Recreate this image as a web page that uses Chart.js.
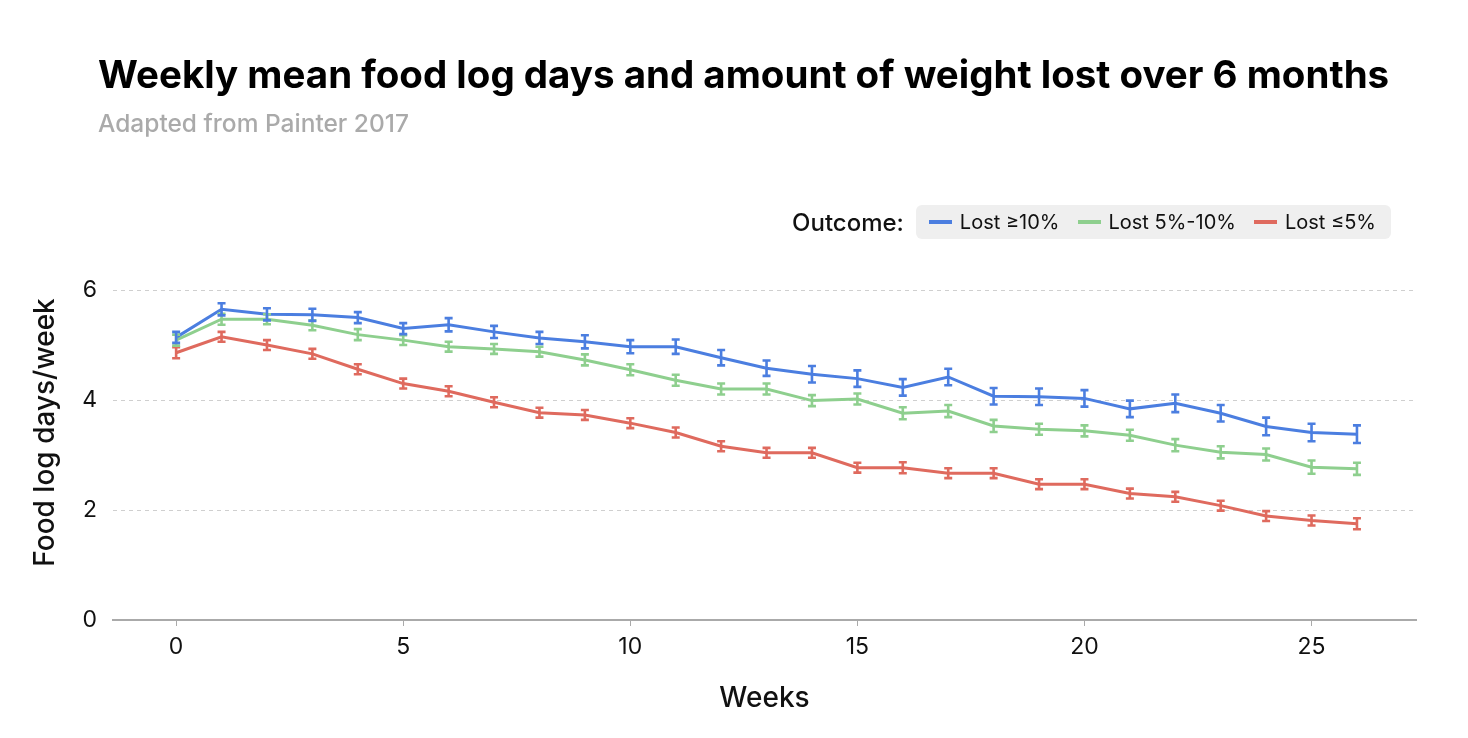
<!DOCTYPE html>
<html>
<head>
<meta charset="utf-8">
<script src="https://cdn.jsdelivr.net/npm/chart.js@4.4.1/dist/chart.umd.min.js"></script>
<style>
  html, body { margin: 0; padding: 0; background: #fff; }
  #wrap { position: relative; width: 1468px; height: 738px; font-family: Inter, "Noto Sans", sans-serif; }
  #chart { position: absolute; left: 0; top: 0; }
  #title { position: absolute; left: 98px; top: 55px; font-size: 38.5px; line-height: 38px; font-weight: 700; color: #000; white-space: nowrap; }
  #subtitle { position: absolute; left: 98px; top: 111px; font-size: 24.5px; line-height: 24.5px; font-weight: 500; color: #aaa; white-space: nowrap; }
  #legend { position: absolute; right: 77px; top: 205px; display: flex; align-items: center; }
  #legend .lab { font-size: 24px; font-weight: 500; color: #111; margin-right: 12px; }
  #legend .box { display: flex; align-items: center; background: #efefef; border-radius: 6px; height: 34px; padding: 0 15px 0 13px; }
  #legend .item { display: flex; align-items: center; font-size: 20px; color: #111; margin-right: 18px; }
  #legend .item:last-child { margin-right: 0; }
  #legend .sw { width: 23px; height: 4px; margin-right: 8px; }
</style>
</head>
<body>
<div id="wrap">
  <canvas id="chart" width="1468" height="738"></canvas>
  <div id="title">Weekly mean food log days and amount of weight lost over 6 months</div>
  <div id="subtitle">Adapted from Painter 2017</div>
  <div id="legend"><span class="lab">Outcome:</span><div class="box" id="legendBox"></div></div>
</div>
<script>
// weeks 0..26
const weeks = [0,1,2,3,4,5,6,7,8,9,10,11,12,13,14,15,16,17,18,19,20,21,22,23,24,25,26];
const seriesNames = ['Lost ≥10%', 'Lost 5%-10%', 'Lost ≤5%'];
const seriesColors = ['#4b7ee0', '#8ecf8e', '#df6a5e'];

const lost10 = [5.14, 5.65, 5.56, 5.55, 5.50, 5.30, 5.37, 5.24, 5.13, 5.06, 4.97, 4.97, 4.77, 4.58, 4.47, 4.39, 4.23, 4.42, 4.07, 4.06, 4.03, 3.84, 3.94, 3.76, 3.52, 3.41, 3.38];
const lost10Err = [0.10, 0.11, 0.11, 0.11, 0.10, 0.10, 0.12, 0.11, 0.11, 0.12, 0.12, 0.13, 0.14, 0.14, 0.15, 0.15, 0.15, 0.15, 0.15, 0.15, 0.15, 0.15, 0.16, 0.15, 0.16, 0.16, 0.16];

const lost5to10 = [5.09, 5.47, 5.47, 5.36, 5.19, 5.09, 4.97, 4.93, 4.88, 4.73, 4.55, 4.36, 4.20, 4.20, 3.99, 4.02, 3.76, 3.80, 3.53, 3.47, 3.44, 3.36, 3.18, 3.05, 3.01, 2.78, 2.75];
const lost5to10Err = [0.10, 0.10, 0.09, 0.09, 0.10, 0.09, 0.09, 0.09, 0.09, 0.10, 0.10, 0.10, 0.10, 0.10, 0.10, 0.10, 0.11, 0.11, 0.11, 0.10, 0.10, 0.10, 0.11, 0.11, 0.11, 0.12, 0.11];

const lostUnder5 = [4.86, 5.15, 5.00, 4.84, 4.56, 4.30, 4.16, 3.96, 3.77, 3.73, 3.58, 3.41, 3.16, 3.04, 3.04, 2.77, 2.77, 2.67, 2.67, 2.47, 2.47, 2.30, 2.24, 2.08, 1.89, 1.81, 1.75];
const lostUnder5Err = [0.10, 0.09, 0.09, 0.09, 0.09, 0.09, 0.09, 0.09, 0.09, 0.09, 0.09, 0.09, 0.09, 0.09, 0.09, 0.09, 0.10, 0.09, 0.09, 0.09, 0.09, 0.09, 0.09, 0.09, 0.09, 0.09, 0.10];

const yTicks = [0, 2, 4, 6];
const xTicks = [0, 5, 10, 15, 20, 25];

const values = [lost10, lost5to10, lostUnder5];
const errors = [lost10Err, lost5to10Err, lostUnder5Err];

function points(vals) {
  return weeks.map((w, i) => ({ x: w, y: vals[i] }));
}

const errorBars = {
  id: 'errorBars',
  afterDatasetsDraw(chart) {
    const { ctx, scales: { x, y } } = chart;
    ctx.save();
    ctx.lineWidth = 2.6;
    for (let d = chart.data.datasets.length - 1; d >= 0; d--) {
      ctx.strokeStyle = seriesColors[d];
      weeks.forEach((w, i) => {
        const px = x.getPixelForValue(w);
        const top = y.getPixelForValue(values[d][i] + errors[d][i]);
        const bot = y.getPixelForValue(values[d][i] - errors[d][i]);
        ctx.beginPath();
        ctx.moveTo(px, top); ctx.lineTo(px, bot);
        ctx.moveTo(px - 4, top); ctx.lineTo(px + 4, top);
        ctx.moveTo(px - 4, bot); ctx.lineTo(px + 4, bot);
        ctx.stroke();
      });
    }
    ctx.restore();
  }
};

const ctx = document.getElementById('chart');
const chart = new Chart(ctx, {
  type: 'line',
  data: {
    datasets: values.map((v, i) => ({
      label: seriesNames[i],
      data: points(v),
      borderColor: seriesColors[i],
      backgroundColor: seriesColors[i],
      borderWidth: 3,
      pointRadius: 0,
      tension: 0
    }))
  },
  options: {
    responsive: false,
    animation: false,
    layout: { padding: { top: 245, right: 52, left: 0, bottom: 0 } },
    plugins: { legend: { display: false }, tooltip: { enabled: false } },
    scales: {
      x: {
        type: 'linear',
        min: -1.39,
        max: 27.3,
        afterFit: s => { s.height = 118; },
        afterBuildTicks: s => { s.ticks = xTicks.map(v => ({ value: v })); },
        ticks: { stepSize: 5, includeBounds: false, color: '#111', padding: 7, font: { family: 'Inter', size: 23 } },
        grid: { drawOnChartArea: false, color: '#aaa', tickLength: 6 },
        border: { color: '#aaa', width: 2 },
        title: { display: true, text: 'Weeks', color: '#111', font: { family: 'Inter', size: 28, weight: '500' }, padding: { top: 0, bottom: 23 } }
      },
      y: {
        min: 0,
        max: 6.82,
        afterFit: s => { s.width = 113; },
        afterBuildTicks: s => { s.ticks = yTicks.map(v => ({ value: v })); },
        ticks: { stepSize: 2, includeBounds: false, color: '#111', padding: 16, font: { family: 'Inter', size: 23 } },
        grid: { color: '#cfcfcf', lineWidth: 1, drawTicks: false },
        border: { display: false, dash: [4, 4] },
        title: { display: true, text: 'Food log days/week', color: '#111', font: { family: 'Inter', size: 28, weight: '500' }, padding: { top: 29, bottom: 0 } }
      }
    }
  },
  plugins: [errorBars]
});

// html legend built from the chart's datasets
const box = document.getElementById('legendBox');
chart.data.datasets.forEach(ds => {
  const item = document.createElement('div');
  item.className = 'item';
  const sw = document.createElement('span');
  sw.className = 'sw';
  sw.style.background = ds.borderColor;
  item.appendChild(sw);
  item.appendChild(document.createTextNode(ds.label));
  box.appendChild(item);
});
</script>
</body>
</html>
